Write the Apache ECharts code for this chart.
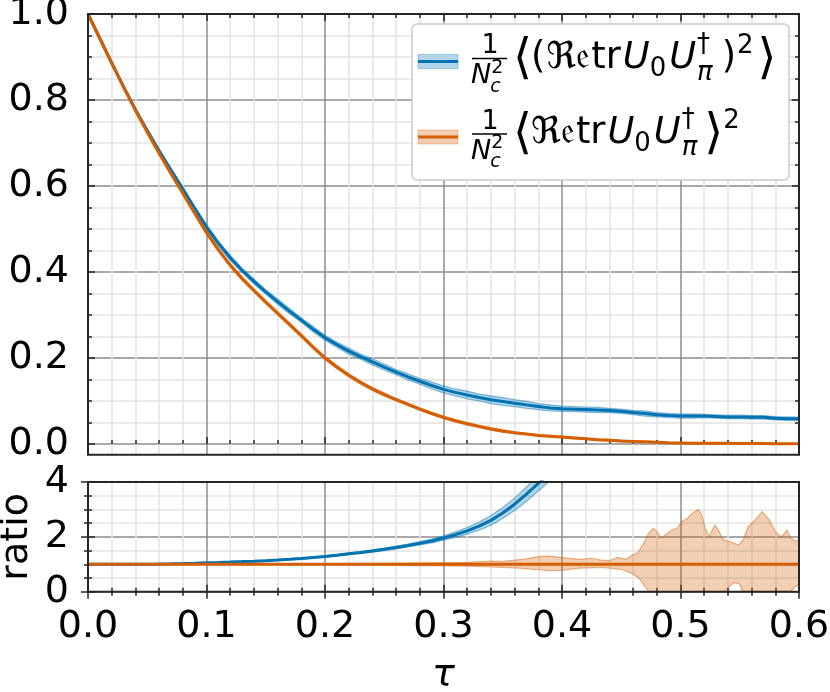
<!DOCTYPE html>
<html><head><meta charset="utf-8">
<script src="https://cdn.jsdelivr.net/npm/echarts@6/dist/echarts.min.js"></script>
<style>html,body{margin:0;padding:0;background:#fff}#c{width:830px;height:692px}</style>
</head><body><div id="c"></div><script>
// ---------------- data ----------------
const tau = [0.00,0.01,0.02,0.03,0.04,0.05,0.06,0.07,0.08,0.09,0.10,0.11,0.12,0.13,0.14,0.15,0.16,0.17,0.18,0.19,0.20,0.21,0.22,0.23,0.24,0.25,0.26,0.27,0.28,0.29,0.30,0.31,0.32,0.33,0.34,0.35,0.36,0.37,0.38,0.39,0.40,0.41,0.42,0.43,0.44,0.45,0.46,0.47,0.48,0.49,0.50,0.51,0.52,0.53,0.54,0.55,0.56,0.57,0.58,0.59,0.60];
const blueMean = [1.000,0.943,0.886,0.831,0.778,0.729,0.682,0.637,0.593,0.548,0.505,0.467,0.433,0.404,0.378,0.354,0.331,0.309,0.288,0.267,0.247,0.231,0.216,0.203,0.191,0.179,0.167,0.156,0.146,0.136,0.127,0.120,0.114,0.108,0.103,0.099,0.095,0.091,0.087,0.084,0.082,0.081,0.080,0.079,0.078,0.076,0.073,0.071,0.068,0.066,0.065,0.065,0.065,0.064,0.063,0.063,0.062,0.062,0.060,0.059,0.059];
const blueErr = [0.000,0.001,0.002,0.002,0.003,0.003,0.004,0.004,0.005,0.005,0.005,0.005,0.006,0.005,0.006,0.005,0.006,0.006,0.005,0.006,0.006,0.006,0.007,0.006,0.007,0.007,0.006,0.007,0.007,0.008,0.008,0.008,0.009,0.008,0.009,0.009,0.008,0.008,0.007,0.007,0.006,0.006,0.006,0.006,0.005,0.005,0.005,0.006,0.005,0.005,0.005,0.005,0.004,0.004,0.004,0.004,0.004,0.004,0.004,0.004,0.004];
const orangeMean = [1.000,0.943,0.886,0.830,0.776,0.725,0.676,0.629,0.583,0.537,0.492,0.452,0.416,0.385,0.357,0.330,0.304,0.278,0.252,0.225,0.200,0.179,0.160,0.143,0.128,0.115,0.103,0.092,0.081,0.071,0.062,0.054,0.047,0.041,0.035,0.030,0.026,0.023,0.020,0.018,0.016,0.014,0.012,0.010,0.009,0.007,0.006,0.005,0.004,0.003,0.0025,0.002,0.002,0.0015,0.0015,0.0012,0.001,0.001,0.0008,0.0008,0.0006];
const orangeErr = [0.000,0.001,0.002,0.002,0.003,0.003,0.004,0.004,0.004,0.005,0.005,0.005,0.004,0.005,0.004,0.004,0.004,0.004,0.004,0.004,0.004,0.004,0.004,0.004,0.004,0.004,0.003,0.003,0.003,0.003,0.003,0.003,0.003,0.003,0.003,0.003,0.002,0.002,0.002,0.002,0.002,0.002,0.002,0.002,0.002,0.002,0.001,0.001,0.001,0.001,0.001,0.001,0.001,0.001,0.001,0.001,0.001,0.001,0.001,0.001,0.001];

const ratioTau = [0.00,0.01,0.02,0.03,0.04,0.05,0.06,0.07,0.08,0.09,0.10,0.11,0.12,0.13,0.14,0.15,0.16,0.17,0.18,0.19,0.20,0.21,0.22,0.23,0.24,0.25,0.26,0.27,0.28,0.29,0.30,0.31,0.32,0.33,0.34,0.35,0.36,0.37,0.38,0.39,0.40];
const blueRatio = [1.000,1.000,1.000,1.001,1.002,1.005,1.010,1.018,1.028,1.041,1.055,1.068,1.082,1.097,1.114,1.133,1.155,1.180,1.210,1.245,1.285,1.330,1.380,1.430,1.485,1.545,1.610,1.685,1.765,1.850,1.960,2.080,2.220,2.390,2.600,2.870,3.190,3.560,3.950,4.350,4.750];
const blueRatioErr = [0,0,0.002,0.003,0.004,0.005,0.006,0.007,0.008,0.009,0.010,0.011,0.012,0.013,0.014,0.015,0.017,0.019,0.021,0.023,0.025,0.028,0.031,0.035,0.040,0.045,0.050,0.055,0.060,0.070,0.080,0.100,0.120,0.150,0.180,0.200,0.230,0.260,0.280,0.300,0.320];

const orangeRatioTau = [0.0,0.1,0.2,0.3,0.4,0.5,0.6];
const orangeRatio = [1,1,1,1,1,1,1];
const orangeUpperTau = [0,0.05,0.10,0.15,0.20,0.25,0.28,0.30,0.32,0.34,0.35,0.36,0.37,0.38,0.39,0.40,0.41,0.415,0.425,0.432,0.44,0.447,0.454,0.458,0.464,0.469,0.473,0.477,0.480,0.484,0.489,0.493,0.497,0.501,0.506,0.510,0.515,0.518,0.521,0.524,0.529,0.532,0.536,0.542,0.549,0.553,0.557,0.563,0.569,0.575,0.580,0.585,0.590,0.593,0.599,0.600];
const orangeUpper = [1.00,1.005,1.01,1.015,1.025,1.035,1.05,1.06,1.07,1.12,1.11,1.15,1.20,1.28,1.30,1.24,1.20,1.18,1.22,1.16,1.13,1.25,1.18,1.30,1.43,1.77,2.13,2.31,2.19,1.95,2.13,2.25,2.31,2.55,2.68,2.86,3.00,2.80,2.31,2.00,2.43,2.25,1.89,1.83,1.70,1.89,2.37,2.61,2.92,2.61,2.19,2.00,2.25,1.95,1.83,1.95];
const orangeLowerTau = [0,0.05,0.10,0.15,0.20,0.25,0.28,0.30,0.32,0.34,0.36,0.38,0.39,0.40,0.415,0.432,0.44,0.451,0.459,0.465,0.470,0.475,0.48,0.49,0.50,0.51,0.52,0.53,0.536,0.540,0.545,0.550,0.553,0.56,0.57,0.58,0.59,0.595,0.600];
const orangeLower = [1.00,0.995,0.99,0.985,0.975,0.965,0.95,0.94,0.93,0.90,0.87,0.80,0.76,0.78,0.86,0.89,0.86,0.80,0.67,0.49,0.18,-0.10,-0.02,-0.40,-0.60,-0.50,-0.30,-0.20,-0.05,0.15,0.33,0.28,-0.10,-0.50,-0.70,-0.40,-0.10,0.10,0.30];

const xTicks = [0.0,0.1,0.2,0.3,0.4,0.5,0.6];
const yTicksTop = [0.0,0.2,0.4,0.6,0.8,1.0];
const yTicksRatio = [0,2,4];

// ---------------- styling ----------------
const BLUE = '#0173b2', ORANGE = '#d55e00';
const BLUE_F = 'rgba(1,115,178,0.3)', ORANGE_F = 'rgba(213,94,0,0.3)';
const BLUE_E = 'rgba(1,115,178,0.45)', ORANGE_E = 'rgba(213,94,0,0.45)';
const FONT = 'DejaVu Sans';
const tickLS = {color:'#262626', width:1.5};
const majorLS = {color:'#8c8c8c', width:1.5};
const minorLS = {color:'#e4e4e4', width:1.5};
const GL = 88, GW = 711;

function xAx(grid, pos, opt) {
  return Object.assign({
    gridIndex: grid, type:'value', position: pos, min: xTicks[0], max: xTicks[xTicks.length-1], interval: 0.1,
    axisLine:{show:false},
    axisTick:{show:true, inside:true, length:7, lineStyle:tickLS},
    minorTick:{show:true, splitNumber:5, length:4, lineStyle:tickLS},
    axisLabel:{show:false},
    splitLine:{show:false}, minorSplitLine:{show:false}
  }, opt || {});
}
function yAx(grid, pos, min, max, interval, opt) {
  return Object.assign({
    gridIndex: grid, type:'value', position: pos, min: min, max: max, interval: interval,
    axisLine:{show:false},
    axisTick:{show:true, inside:true, length:7, lineStyle:tickLS},
    minorTick:{show:true, splitNumber:4, length:4, lineStyle:tickLS},
    axisLabel:{show:false},
    splitLine:{show:false}, minorSplitLine:{show:false}
  }, opt || {});
}
const labelStyle = {show:true, fontFamily:FONT, fontSize:38, color:'#000'};

function band(xi, yi, upT, upV, loT, loV, fill, edge, clip) {
  return {
    type:'custom', xAxisIndex:xi, yAxisIndex:yi, clip:clip, silent:true, z:2,
    data:[[upT[0], upV[0]]],
    renderItem: function (params, api) {
      const pts = [];
      for (let i = 0; i < upT.length; i++) pts.push(api.coord([upT[i], upV[i]]));
      for (let i = loT.length - 1; i >= 0; i--) pts.push(api.coord([loT[i], loV[i]]));
      return {type:'polygon', shape:{points:pts}, style:{fill:fill, stroke:edge, lineWidth:1.2}};
    }
  };
}
function line(xi, yi, ts, vs, color, clip) {
  return {type:'line', xAxisIndex:xi, yAxisIndex:yi, clip:clip, showSymbol:false, symbol:'none', silent:true, z:3,
    data: ts.map((t,i)=>[t, vs[i]]), lineStyle:{color:color, width:3}, itemStyle:{color:color}};
}

const blueUp = blueMean.map((v,i)=>v+blueErr[i]), blueLo = blueMean.map((v,i)=>v-blueErr[i]);
const orUp = orangeMean.map((v,i)=>v+orangeErr[i]), orLo = orangeMean.map((v,i)=>v-orangeErr[i]);
const brUp = blueRatio.map((v,i)=>v+blueRatioErr[i]), brLo = blueRatio.map((v,i)=>v-blueRatioErr[i]);

// ---------------- legend (drawn as graphics, math laid out piece by piece) ----------------
const mctx = document.createElement('canvas').getContext('2d');
function measure(s, size, italic) {
  mctx.font = (italic ? 'italic ' : '') + size + 'px "DejaVu Sans"';
  return mctx.measureText(s).width;
}
const gfx = [];
function txt(s, x, y, size, italic, align) {
  gfx.push({type:'text', z:61, x:x, y:y, style:{text:s, fontFamily:FONT, fontSize:size, fontStyle:italic?'italic':'normal', fill:'#000', align:align||'left', verticalAlign:'middle'}});
}
// pieces: [text, size, italic, dy, advance, gapAfter]
const entry1 = [
  ['\u27E8',45,false,2,true,-1],
  ['(',34,false,0,true,1],
  ['\u211C\uD835\uDD22',34,false,0,true,1],
  ['tr',34,false,0,true,2],
  ['U',34,true,0,true,0],
  ['0',24,false,10,true,3],
  ['U',34,true,0,true,1],
  ['\u2020',24,false,-12,false,0],
  ['\u03C0',24,true,14,true,9],
  [')',34,false,0,true,1],
  ['2',24,false,-11,true,4],
  ['\u27E9',45,false,2,true,0]
];
const entry2 = [
  ['\u27E8',45,false,2,true,-1],
  ['\u211C\uD835\uDD22',34,false,0,true,1],
  ['tr',34,false,0,true,2],
  ['U',34,true,0,true,0],
  ['0',24,false,10,true,3],
  ['U',34,true,0,true,1],
  ['\u2020',24,false,-12,false,0],
  ['\u03C0',24,true,14,true,7],
  ['\u27E9',45,false,2,true,0],
  ['2',24,false,-11,true,0]
];
function flow(pieces, x0, yMid, scale) {
  let x = x0;
  pieces.forEach(function (p) {
    const sz = p[1] * scale;
    txt(p[0], x, yMid + p[3] * scale, sz, p[2], 'left');
    if (p[4]) x += measure(p[0], sz, p[2]) + p[5];
  });
  return x;
}
function flowWidth(pieces, scale) {
  let w = 0;
  pieces.forEach(function (p) { if (p[4]) w += measure(p[0], p[1]*scale, p[2]) + p[5]; });
  return w;
}
// fit entry 1 to the reference width (515 -> 777)
const legScale = Math.max(0.8, Math.min(1.25, (777 - 515 - 40) / (flowWidth(entry1, 1) - 40)));

gfx.push({type:'rect', z:60, shape:{x:412, y:24, width:377, height:156, r:5}, style:{fill:'#fff', stroke:'#cccccc', lineWidth:1.5}});
[[BLUE, BLUE_F, 0, entry1],[ORANGE, ORANGE_F, 75.5, entry2]].forEach(function (e) {
  const dy = e[2];
  gfx.push({type:'rect', z:61, shape:{x:418, y:54.5+dy, width:40, height:14}, style:{fill:e[1], stroke:e[1], lineWidth:1}});
  gfx.push({type:'line', z:62, shape:{x1:418, y1:61.5+dy, x2:458, y2:61.5+dy}, style:{stroke:e[0], lineWidth:3}});
  // fraction 1/N_c^2
  txt('1', 490, 46+dy, 27, false, 'center');
  gfx.push({type:'line', z:61, shape:{x1:472, y1:58.5+dy, x2:507, y2:58.5+dy}, style:{stroke:'#000', lineWidth:1.5}});
  txt('N', 471, 76+dy, 27, true);
  const nx = 471 + measure('N', 27, true);
  txt('2', nx, 68+dy, 19, false);
  txt('c', nx - 1, 87+dy, 19, true);
  flow(e[3], 513, 58 + dy, legScale);
});
// frames
gfx.push({type:'rect', z:50, shape:{x:GL, y:14, width:GW, height:440.7}, style:{fill:'none', stroke:'#262626', lineWidth:2}});
gfx.push({type:'rect', z:50, shape:{x:GL, y:482, width:GW, height:109.7}, style:{fill:'none', stroke:'#262626', lineWidth:2}});

const chart = echarts.init(document.getElementById('c'), null, {renderer:'canvas', width:830, height:692});
chart.setOption({
  animation:false,
  backgroundColor:'#fff',
  grid:[
    {left:GL, top:14, width:GW, height:440.7, outerBoundsMode:'none', containLabel:false},
    {left:GL, top:14, width:GW, height:430, outerBoundsMode:'none', containLabel:false},
    {left:GL, top:482, width:GW, height:109.7, outerBoundsMode:'none', containLabel:false}
  ],
  xAxis:[
    xAx(0,'bottom',{splitLine:{show:true, lineStyle:majorLS}, minorSplitLine:{show:true, lineStyle:minorLS}}),
    xAx(0,'top'),
    {gridIndex:1, type:'value', min:0, max:0.6, show:false},
    xAx(2,'bottom',{splitLine:{show:true, lineStyle:majorLS}, minorSplitLine:{show:true, lineStyle:minorLS},
      axisLabel:Object.assign({margin:16, formatter:v=>v.toFixed(1)}, labelStyle),
      name:'\u03C4', nameLocation:'middle', nameGap:64, nameMoveOverlap:false,
      nameTextStyle:{fontFamily:FONT, fontSize:38, fontStyle:'italic', color:'#000'}}),
    xAx(2,'top')
  ],
  yAxis:[
    {gridIndex:0, type:'value', min:-0.025, max:1, show:false},
    yAx(1,'left',yTicksTop[0],yTicksTop[yTicksTop.length-1],0.2,{splitLine:{show:true, lineStyle:majorLS}, minorSplitLine:{show:true, lineStyle:minorLS},
      axisLabel:Object.assign({margin:19, formatter:v=>v.toFixed(1)}, labelStyle)}),
    yAx(1,'right',0,1,0.2),
    yAx(2,'left',yTicksRatio[0],yTicksRatio[yTicksRatio.length-1],2,{splitLine:{show:true, lineStyle:majorLS}, minorSplitLine:{show:true, lineStyle:minorLS},
      axisLabel:Object.assign({margin:19, formatter:v=>String(Math.round(v))}, labelStyle),
      name:'ratio', nameLocation:'middle', nameGap:52, nameMoveOverlap:false,
      nameTextStyle:{fontFamily:FONT, fontSize:38, color:'#000'}}),
    yAx(2,'right',0,4,2)
  ],
  series:[
    band(2,1,tau,blueUp,tau,blueLo,BLUE_F,BLUE_E,false),
    line(2,1,tau,blueMean,BLUE,false),
    band(2,1,tau,orUp,tau,orLo,ORANGE_F,ORANGE_E,false),
    line(2,1,tau,orangeMean,ORANGE,false),
    band(3,3,ratioTau,brUp,ratioTau,brLo,BLUE_F,BLUE_E,true),
    line(3,3,ratioTau,blueRatio,BLUE,true),
    band(3,3,orangeUpperTau,orangeUpper,orangeLowerTau,orangeLower,ORANGE_F,ORANGE_E,true),
    line(3,3,orangeRatioTau,orangeRatio,ORANGE,true)
  ],
  graphic: gfx
});
</script></body></html>
